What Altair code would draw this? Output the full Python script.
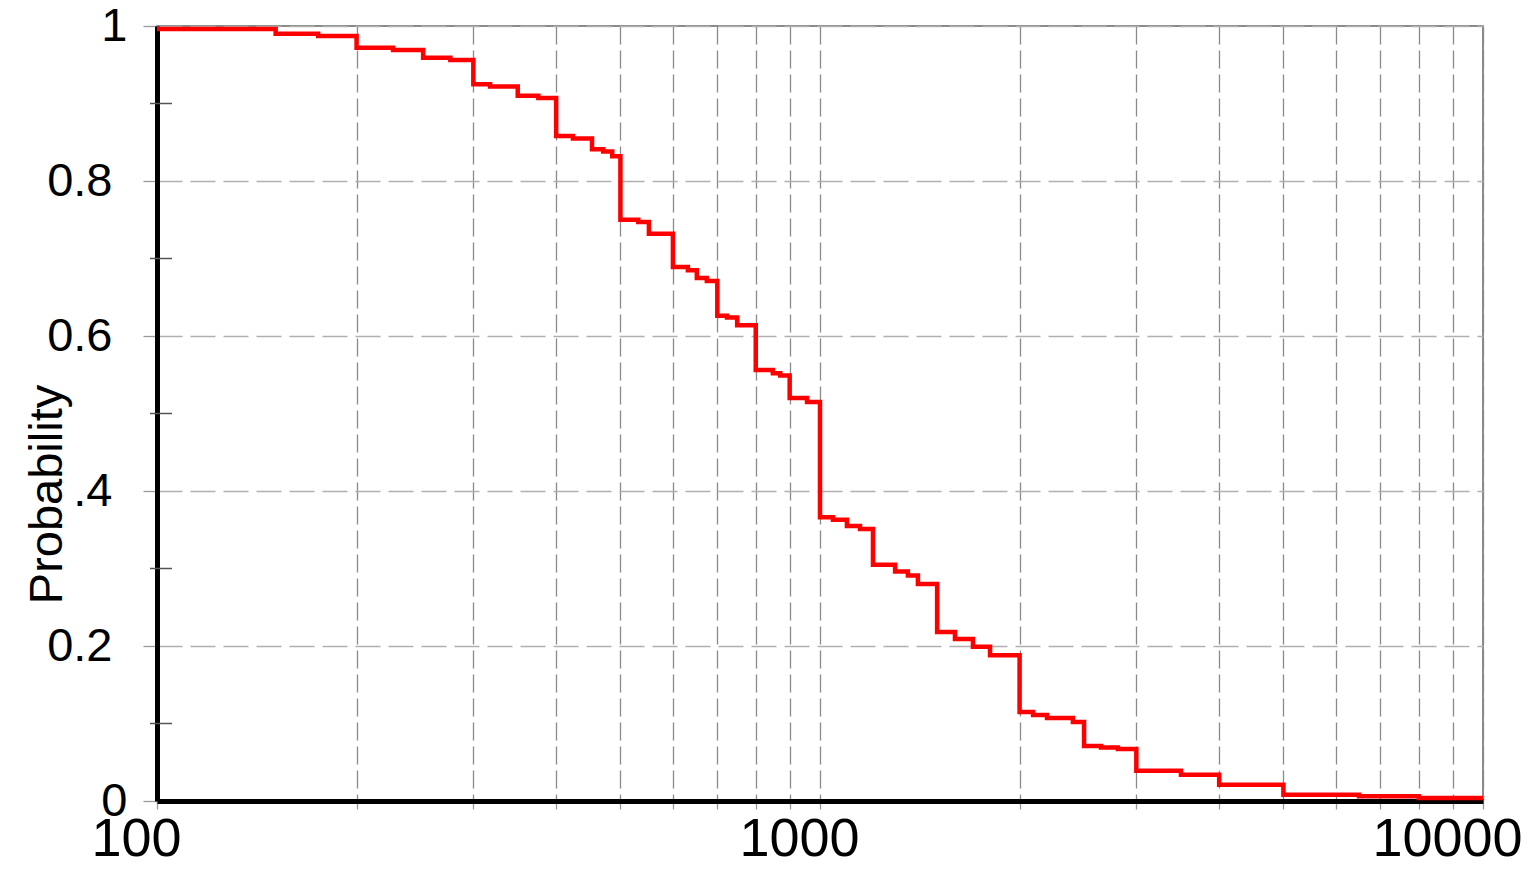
import altair as alt
import pandas as pd

# Survival-type step curve
time_values = [100, 151, 175, 200, 227, 252, 277, 300, 318, 350, 376, 400, 424, 453, 471, 486,
               500, 532, 552, 600, 632, 652, 675, 700, 724, 750, 800, 849, 871, 900, 956,
               1000, 1046, 1098, 1149, 1202, 1298, 1357, 1405, 1502, 1598, 1701, 1805,
               2000, 2096, 2200, 2407, 2502, 2654, 2814, 3000, 3503, 4000, 5000, 6500, 8000, 10000]
prob_values = [0.996, 0.990, 0.987, 0.972, 0.969, 0.959, 0.956, 0.925, 0.922, 0.910, 0.907, 0.858, 0.855, 0.841, 0.838, 0.832,
               0.750, 0.747, 0.732, 0.689, 0.685, 0.675, 0.671, 0.626, 0.624, 0.614, 0.556, 0.552, 0.549, 0.520, 0.515,
               0.366, 0.363, 0.355, 0.351, 0.305, 0.296, 0.291, 0.280, 0.218, 0.209, 0.199, 0.188,
               0.115, 0.111, 0.107, 0.102, 0.071, 0.069, 0.067, 0.039, 0.034, 0.021, 0.008, 0.006, 0.004, 0.003]

x_tick_values = [100, 200, 300, 400, 500, 600, 700, 800, 900,
                 1000, 2000, 3000, 4000, 5000, 6000, 7000, 8000, 9000, 10000]
x_labelled = [100, 1000, 10000]
y_major = [0, 0.2, 0.4, 0.6, 0.8, 1]
y_major_labels = ["0", "0.2", ".4", "0.6", "0.8", "1"]
y_minor = [0.1, 0.3, 0.5, 0.7, 0.9]

df = pd.DataFrame({"t": time_values, "p": prob_values})
minor_df = pd.DataFrame({"p": y_minor})

FONT = "Liberation Sans, Arial, sans-serif"

x_label_expr = " || ".join(f"datum.value == {v}" for v in x_labelled)
x_label_expr = f"({x_label_expr}) ? format(datum.value, 'd') : ''"

y_label_expr = ""
for v, lab in zip(y_major, y_major_labels):
    y_label_expr += f"datum.value == {v} ? '{lab}' : "
y_label_expr += "''"

x_scale = alt.Scale(type="log", domain=[100, 10000], nice=False)
y_scale = alt.Scale(domain=[0, 1], nice=False)

x_axis = alt.Axis(
    values=x_tick_values,
    labelExpr=x_label_expr,
    labelFont=FONT,
    labelFontSize=54,
    labelColor="black",
    labelPadding=3,
    labelAlign="center",
    labelBaseline="top",
    labelOffset={"condition": {"test": "datum.value == 10000", "value": -36}, "value": -21},
    labelOverlap=False,
    labelFlush=False,
    tickSize=8,
    tickColor="#999999",
    tickWidth=1.3,
    domainColor="black",
    domainWidth=5,
    grid=True,
    gridColor="#8a8a8a",
    gridDash=[18, 6],
    gridWidth=1.3,
    title=None,
)

y_axis = alt.Axis(
    values=y_major,
    labelExpr=y_label_expr,
    labelFont=FONT,
    labelFontSize=47,
    labelColor="black",
    labelBaseline="middle",
    labelPadding={"condition": {"test": "datum.value == 0 || datum.value == 1", "value": 16}, "value": 31},
    labelOverlap=False,
    labelFlush=False,
    tickSize=14,
    tickColor="#999999",
    tickWidth=1.3,
    domainColor="black",
    domainWidth=5,
    grid=True,
    gridColor="#b0b0b0",
    gridDash=[25, 8],
    gridWidth=1.3,
    title="Probability",
    titleFont=FONT,
    titleFontSize=47,
    titleFontWeight="normal",
    titleColor="black",
    titleAngle=270,
    titleAlign="center",
    titleBaseline="alphabetic",
    titleX=-96,
    titleY=468,
)

line = alt.Chart(df).mark_line(
    color="#ff0000", strokeWidth=4.5, interpolate="step-after", clip=True
).encode(
    x=alt.X("t:Q", scale=x_scale, axis=x_axis),
    y=alt.Y("p:Q", scale=y_scale, axis=y_axis),
)

minor_ticks = alt.Chart(minor_df).mark_rule(color="#555555", strokeWidth=1.5).encode(
    y=alt.Y("p:Q", scale=y_scale, axis=y_axis),
    x=alt.value(-7),
    x2=alt.value(15),
)

chart = alt.layer(line, minor_ticks).properties(
    width=1326,
    height=775,
    padding={"left": 149, "top": 18, "right": 42, "bottom": 58},
    autosize=alt.AutoSizeParams(type="none"),
    background="white",
).configure_view(
    stroke="#666666",
    strokeWidth=1.5,
)

chart.save("out.html", embed_options={"renderer": "svg", "actions": False})
